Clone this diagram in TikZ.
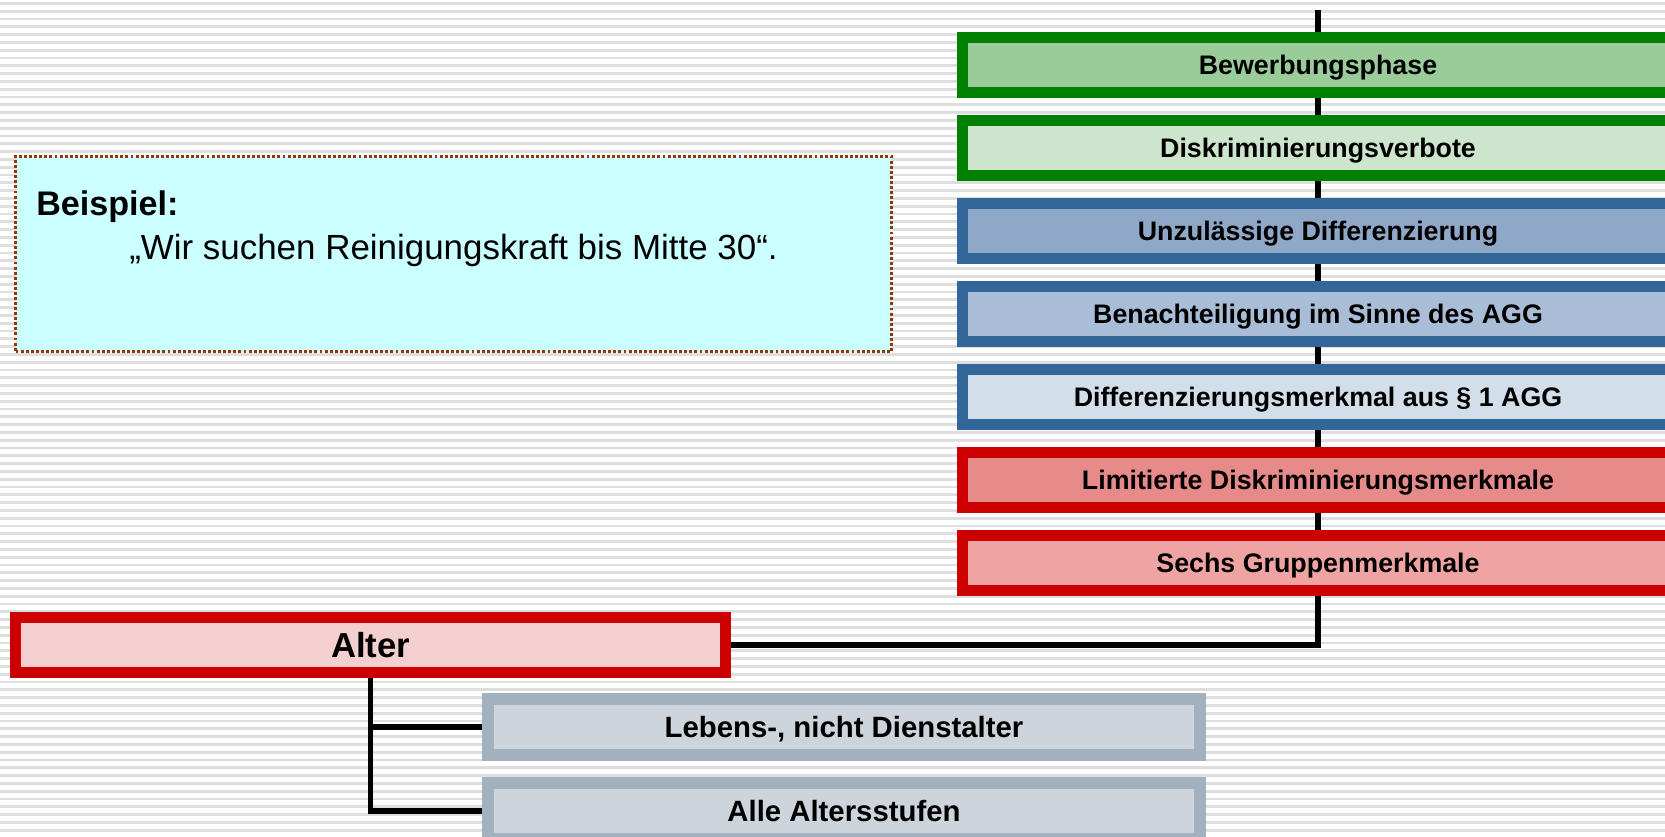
\documentclass[tikz,border=0pt]{standalone}
\usepackage{fontspec}
\setmainfont{Liberation Sans}
\pgfdeclarelayer{back}
\pgfdeclarelayer{links}
\pgfsetlayers{back,links,main}
\definecolor{grnB}{HTML}{008000}
\definecolor{bluB}{HTML}{336699}
\definecolor{redB}{HTML}{CC0000}
\definecolor{gryB}{HTML}{A3B1BF}
\definecolor{fG1}{HTML}{99CC99}
\definecolor{fG2}{HTML}{CCE5CC}
\definecolor{fB1}{HTML}{8FA8C8}
\definecolor{fB2}{HTML}{A9BDD7}
\definecolor{fB3}{HTML}{D3DEEB}
\definecolor{fR1}{HTML}{E68A8A}
\definecolor{fR2}{HTML}{EFA3A3}
\definecolor{fR3}{HTML}{F3CFCF}
\definecolor{fGr}{HTML}{CDD4DC}
\definecolor{exB}{HTML}{993300}
\definecolor{exF}{HTML}{CCFFFF}
\definecolor{stripe}{HTML}{DEDEDE}
\begin{document}
\begin{tikzpicture}[x=0.75pt,y=-0.75pt,
  rbox/.style={rectangle, inner sep=0pt, line width=8.25pt,
    minimum width=711*0.75pt, minimum height=55*0.75pt,
    font=\fontsize{20.1pt}{20.1pt}\selectfont\bfseries,
    text height=18pt, text depth=3.61pt},
  abox/.style={rectangle, inner sep=0pt, line width=8.25pt, draw=redB, fill=fR3,
    minimum width=710*0.75pt, minimum height=55*0.75pt,
    font=\fontsize{26pt}{26pt}\selectfont\bfseries,
    text height=23pt, text depth=4.4pt},
  gbox/.style={rectangle, inner sep=0pt, line width=9pt, draw=gryB, fill=fGr,
    minimum width=712*0.75pt, minimum height=56*0.75pt,
    font=\fontsize{22pt}{22pt}\selectfont\bfseries,
    text height=20pt, text depth=4.25pt},
  exbox/.style={rectangle, inner sep=0pt, line width=2.8pt, draw=exB, fill=exF,
    dash pattern=on 2.2pt off 1.6pt,
    minimum width=876*0.75pt, minimum height=195*0.75pt},
  link/.style={draw=black, line width=4.1pt, line join=miter},
]
\useasboundingbox (0,0) rectangle (1665,836);
\begin{pgfonlayer}{back}
  \fill[white] (0,0) rectangle (1665,836);
  \foreach \i in {0,...,107}
    \fill[stripe] (0,{2+7.8*\i}) rectangle (1665,{4.8+7.8*\i});
\end{pgfonlayer}

% right column
\node[rbox, draw=grnB, fill=fG1] (b1) at (1318,65) {Bewerbungsphase};
\node[rbox, draw=grnB, fill=fG2] (b2) at (1318,148) {Diskriminierungsverbote};
\node[rbox, draw=bluB, fill=fB1] (b3) at (1318,231) {Unzulässige Differenzierung};
\node[rbox, draw=bluB, fill=fB2] (b4) at (1318,314) {Benachteiligung im Sinne des AGG};
\node[rbox, draw=bluB, fill=fB3] (b5) at (1318,397) {Differenzierungsmerkmal aus § 1 AGG};
\node[rbox, draw=redB, fill=fR1] (b6) at (1318,480) {Limitierte Diskriminierungsmerkmale};
\node[rbox, draw=redB, fill=fR2] (b7) at (1318,563) {Sechs Gruppenmerkmale};

% Alter and sub boxes
\node[abox] (alter) at (370.5,645) {Alter};
\node[gbox] (lebens) at (844,727) {Lebens-, nicht Dienstalter};
\node[gbox] (alle) at (844,811) {Alle Altersstufen};

% example box
\node[exbox] (bsp) at (453.5,254) {};
\node[anchor=base west, inner sep=0pt, font=\fontsize{25.6pt}{25.6pt}\selectfont\bfseries] (bsp1) at (36,215) {Beispiel:};
\node[anchor=base west, inner sep=0pt, font=\fontsize{26.2pt}{26.2pt}\selectfont] (bsp2) at (129,259) {„Wir suchen Reinigungskraft bis Mitte 30“.};

\coordinate (top) at (1318,10);
\begin{pgfonlayer}{links}
  \draw[link] (top) -- (b1.north);
  \draw[link] (b1.south) -- (b2.north);
  \draw[link] (b2.south) -- (b3.north);
  \draw[link] (b3.south) -- (b4.north);
  \draw[link] (b4.south) -- (b5.north);
  \draw[link] (b5.south) -- (b6.north);
  \draw[link] (b6.south) -- (b7.north);
  \draw[link] (b7.south) |- (alter.east);
  \draw[link] (alter.south) |- (lebens.west);
  \draw[link] (alter.south) |- (alle.west);
\end{pgfonlayer}
\end{tikzpicture}
\end{document}
